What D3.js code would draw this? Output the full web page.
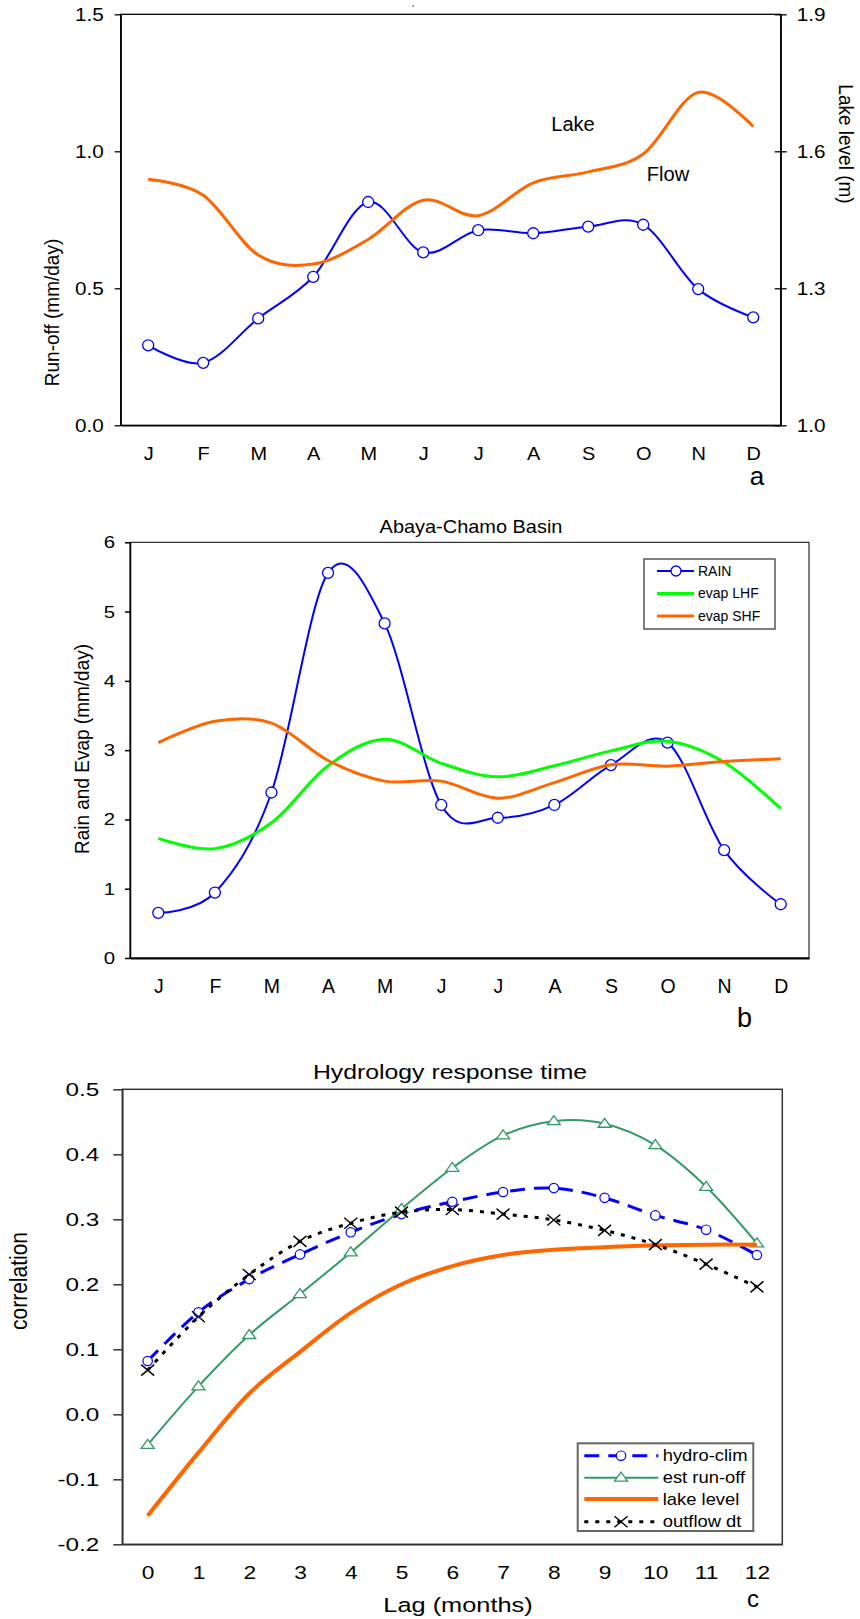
<!DOCTYPE html>
<html>
<head>
<meta charset="utf-8">
<script src="https://cdn.jsdelivr.net/npm/d3@7"></script>
<style>
  body { margin: 0; background: #fff; }
  svg { display: block; }
  text { font-family: "Liberation Sans", Arial, sans-serif; fill: #000; }
</style>
</head>
<body>
<svg id="viz" width="860" height="1619"></svg>
<script>
// ---- data ----
const months = ["J", "F", "M", "A", "M", "J", "J", "A", "S", "O", "N", "D"];

// panel a: run-off (left axis) and lake level (right axis)
const flowA = [0.292, 0.228, 0.390, 0.542, 0.815, 0.631, 0.712, 0.701, 0.725, 0.732, 0.497, 0.394];
const lakeA = [1.539, 1.504, 1.373, 1.353, 1.407, 1.493, 1.459, 1.531, 1.555, 1.594, 1.729, 1.654];
const ticksA = [0, 0.5, 1.0, 1.5];
const ticksAR = [1.0, 1.3, 1.6, 1.9];

// panel b: rain and evaporation
const rainB = [0.652, 0.945, 2.389, 5.558, 4.829, 2.209, 2.024, 2.209, 2.784, 3.108, 1.556, 0.776];
const lhfB = [1.726, 1.577, 1.952, 2.774, 3.159, 2.810, 2.615, 2.774, 2.990, 3.128, 2.825, 2.157];
const shfB = [3.108, 3.416, 3.390, 2.851, 2.553, 2.553, 2.306, 2.532, 2.789, 2.769, 2.836, 2.877];
const ticksB = [0, 1, 2, 3, 4, 5, 6];

// panel c: lag correlations
const lags = [0, 1, 2, 3, 4, 5, 6, 7, 8, 9, 10, 11, 12];
const hydroC = [0.082, 0.157, 0.208, 0.246, 0.280, 0.308, 0.327, 0.342, 0.348, 0.333, 0.306, 0.284, 0.245];
const runoffC = [-0.047, 0.043, 0.122, 0.185, 0.249, 0.316, 0.379, 0.429, 0.451, 0.447, 0.414, 0.350, 0.263];
const lakeC = [-0.156, -0.059, 0.032, 0.096, 0.156, 0.200, 0.228, 0.245, 0.253, 0.257, 0.260, 0.261, 0.261];
const outflowC = [0.068, 0.150, 0.215, 0.266, 0.294, 0.311, 0.315, 0.308, 0.299, 0.283, 0.261, 0.231, 0.196];
const ticksC = [-0.2, -0.1, 0.0, 0.1, 0.2, 0.3, 0.4, 0.5];

const BLUE = "#0000FF", ORANGE = "#FF6600", LIME = "#00FF00", SEA = "#339966";

const svg = d3.select("#viz");
const smooth = d3.curveCatmullRom.alpha(0);

// the original text is drawn a bit wide, so stretch horizontally
function stretchText(sel, k) {
    sel.each(function() {
        const t = d3.select(this);
        const x = +t.attr("x") || 0;
        t.attr("x", x / k).attr("transform", `scale(${k},1)`);
    });
}

function label(x, y, str, o) {
    o = o || {};
    const k = o.k || 1;
    let tr = `translate(${x},${y})`;
    if (o.rot) tr += ` rotate(${o.rot}) scale(1,${k})`;
    else tr += ` scale(${k},1)`;
    return svg.append("text")
        .attr("transform", tr)
        .attr("text-anchor", o.anchor || "middle")
        .attr("dy", o.dy === undefined ? "0.35em" : o.dy)
        .attr("font-size", o.size || 18)
        .text(str);
}

function styleAxis(g, size, k, width) {
    g.attr("font-size", size);
    g.select(".domain").attr("stroke-width", width || 1.3);
    g.selectAll(".tick line").attr("stroke-width", width || 1.3);
    stretchText(g.selectAll("text"), k);
}

function circles(data, x, y, color, r) {
    svg.append("g").selectAll("circle").data(data).join("circle")
        .attr("cx", (d, i) => x(i))
        .attr("cy", d => y(d))
        .attr("r", r)
        .attr("fill", "#fff")
        .attr("stroke", color)
        .attr("stroke-width", 1.3);
}

// ================= panel a =================
const xA = d3.scalePoint().domain(d3.range(12)).range([120.7, 780.7]).padding(0.5);
const yA = d3.scaleLinear().domain([0, 1.5]).range([425.3, 14.3]);
const yAR = d3.scaleLinear().domain([1.0, 1.9]).range([425.3, 14.3]);

svg.append("rect")
    .attr("x", 120.7).attr("y", 14.3).attr("width", 660).attr("height", 411)
    .attr("fill", "none").attr("stroke", "#000").attr("stroke-width", 1.3);

const gAL = svg.append("g").attr("transform", "translate(120.7,0)")
    .call(d3.axisLeft(yA).tickValues(ticksA).tickFormat(d => d.toFixed(1)).tickSize(6).tickSizeOuter(0).tickPadding(11));
styleAxis(gAL, 18, 1.15);

const gAR = svg.append("g").attr("transform", "translate(780.7,0)")
    .call(d3.axisRight(yAR).tickValues(ticksAR).tickFormat(d => d.toFixed(1)).tickSize(6).tickSizeOuter(0).tickPadding(10));
gAR.selectAll(".tick line").attr("x1", -6);
styleAxis(gAR, 18, 1.15);

const gAB = svg.append("g").attr("transform", "translate(0,425.3)")
    .call(d3.axisBottom(xA).tickFormat(i => months[i]).tickSize(0).tickSizeOuter(0).tickPadding(21));
styleAxis(gAB, 19, 1.05);

svg.append("path").datum(flowA)
    .attr("fill", "none").attr("stroke", BLUE).attr("stroke-width", 2)
    .attr("d", d3.line().x((d, i) => xA(i)).y(d => yA(d)).curve(smooth));
circles(flowA, xA, yA, BLUE, 5.5);

svg.append("path").datum(lakeA)
    .attr("fill", "none").attr("stroke", ORANGE).attr("stroke-width", 3)
    .attr("d", d3.line().x((d, i) => xA(i)).y(d => yAR(d)).curve(smooth));

label(573, 124, "Lake", { size: 19.5, k: 1.03 });
label(668, 174, "Flow", { size: 19.5, k: 1.03 });
label(413, 8, "'", { size: 9 });
label(52, 312.5, "Run-off (mm/day)", { size: 19, rot: -90, k: 1.1 });
label(846, 144, "Lake level (m)", { size: 19, rot: 90, k: 1.1 });
label(757, 485, "a", { size: 26, dy: 0 });

// ================= panel b =================
const xB = d3.scalePoint().domain(d3.range(12)).range([130, 809]).padding(0.5);
const yB = d3.scaleLinear().domain([0, 6]).range([958, 542.3]);

svg.append("rect")
    .attr("x", 130).attr("y", 542.3).attr("width", 679).attr("height", 415.7)
    .attr("fill", "none").attr("stroke", "#000").attr("stroke-width", 1);

const gBL = svg.append("g").attr("transform", "translate(130,0)")
    .call(d3.axisLeft(yB).tickValues(ticksB).tickFormat(d => d).tickSize(5).tickSizeOuter(0).tickPadding(10));
styleAxis(gBL, 17, 1.2, 1.5);

const gBB = svg.append("g").attr("transform", "translate(0,958)")
    .call(d3.axisBottom(xB).tickFormat(i => months[i]).tickSize(0).tickSizeOuter(0).tickPadding(21));
styleAxis(gBB, 19.5, 1, 2);

const lineB = d3.line().x((d, i) => xB(i)).y(d => yB(d)).curve(smooth);
svg.append("path").datum(rainB)
    .attr("fill", "none").attr("stroke", BLUE).attr("stroke-width", 2).attr("d", lineB);
circles(rainB, xB, yB, BLUE, 5.5);
svg.append("path").datum(lhfB)
    .attr("fill", "none").attr("stroke", LIME).attr("stroke-width", 3).attr("d", lineB);
svg.append("path").datum(shfB)
    .attr("fill", "none").attr("stroke", ORANGE).attr("stroke-width", 3).attr("d", lineB);

label(471, 527, "Abaya-Chamo Basin", { size: 17.5, k: 1.14 });
label(81.7, 749, "Rain and Evap (mm/day)", { size: 19, rot: -90, k: 1.1 });
label(744.5, 1027, "b", { size: 27, dy: 0 });

// legend b
svg.append("rect")
    .attr("x", 644).attr("y", 559).attr("width", 131).attr("height", 70)
    .attr("fill", "#fff").attr("stroke", "#555").attr("stroke-width", 1.5);
const legB = [
    { name: "RAIN", color: BLUE, w: 2, marker: true },
    { name: "evap LHF", color: LIME, w: 3 },
    { name: "evap SHF", color: ORANGE, w: 3 }
];
legB.forEach((s, i) => {
    const y = 571 + i * 22.5;
    svg.append("line").attr("x1", 657).attr("x2", 694).attr("y1", y).attr("y2", y)
        .attr("stroke", s.color).attr("stroke-width", s.w);
    if (s.marker) {
        svg.append("circle").attr("cx", 676).attr("cy", y).attr("r", 5)
            .attr("fill", "#fff").attr("stroke", s.color).attr("stroke-width", 1.3);
    }
    label(698, y, s.name, { size: 14, anchor: "start" });
});

// ================= panel c =================
const xC = d3.scalePoint().domain(lags).range([122.3, 782.3]).padding(0.5);
const yC = d3.scaleLinear().domain([-0.2, 0.5]).range([1544.3, 1089.3]);

svg.append("rect")
    .attr("x", 122.3).attr("y", 1089.3).attr("width", 660).attr("height", 455)
    .attr("fill", "none").attr("stroke", "#333").attr("stroke-width", 1.5);

const gCL = svg.append("g").attr("transform", "translate(122.3,0)")
    .call(d3.axisLeft(yC).tickValues(ticksC).tickFormat(d => d.toFixed(1)).tickSize(9).tickSizeOuter(0).tickPadding(14));
gCL.selectAll("line, path").attr("stroke", "#333");
styleAxis(gCL, 18, 1.35, 1.5);

const gCB = svg.append("g").attr("transform", "translate(0,1544.3)")
    .call(d3.axisBottom(xC).tickSize(0).tickSizeOuter(0).tickPadding(22.5));
gCB.select(".domain").attr("stroke", "#333");
styleAxis(gCB, 17.5, 1.3, 1.5);

const lineC = d3.line().x((d, i) => xC(lags[i])).y(d => yC(d)).curve(smooth);

// hydro-clim
svg.append("path").datum(hydroC)
    .attr("fill", "none").attr("stroke", BLUE).attr("stroke-width", 3)
    .attr("stroke-dasharray", "15,9").attr("d", lineC);
svg.append("g").selectAll("circle").data(hydroC).join("circle")
    .attr("cx", (d, i) => xC(lags[i])).attr("cy", d => yC(d)).attr("r", 4.7)
    .attr("fill", "#fff").attr("stroke", BLUE).attr("stroke-width", 1.2);

// est run-off
const tri = "M0,-5.5L6.5,3.5L-6.5,3.5Z";
svg.append("path").datum(runoffC)
    .attr("fill", "none").attr("stroke", SEA).attr("stroke-width", 2).attr("d", lineC);
svg.append("g").selectAll("path").data(runoffC).join("path")
    .attr("transform", (d, i) => `translate(${xC(lags[i])},${yC(d)})`)
    .attr("d", tri).attr("fill", "#fff").attr("stroke", SEA).attr("stroke-width", 1.3);

// lake level
svg.append("path").datum(lakeC)
    .attr("fill", "none").attr("stroke", ORANGE).attr("stroke-width", 4).attr("d", lineC);

// outflow dt
const xMark = "M-6.5,-5.5L6.5,5.5M-6.5,5.5L6.5,-5.5";
svg.append("path").datum(outflowC)
    .attr("fill", "none").attr("stroke", "#000").attr("stroke-width", 3)
    .attr("stroke-dasharray", "4,7").attr("d", lineC);
svg.append("g").selectAll("path").data(outflowC).join("path")
    .attr("transform", (d, i) => `translate(${xC(lags[i])},${yC(d)})`)
    .attr("d", xMark).attr("fill", "none").attr("stroke", "#000").attr("stroke-width", 1.4);

label(450, 1071.5, "Hydrology response time", { size: 20, k: 1.24 });
label(458, 1605, "Lag (months)", { size: 19.5, k: 1.3 });
label(19.4, 1281, "correlation", { size: 21, rot: -90, k: 1.1 });
label(753, 1607, "c", { size: 24, dy: 0 });

// legend c
svg.append("rect")
    .attr("x", 577.7).attr("y", 1443.3).attr("width", 175.6).attr("height", 87.7)
    .attr("fill", "#fff").attr("stroke", "#666").attr("stroke-width", 2);
const legC = [
    { name: "hydro-clim", color: BLUE, w: 3, dash: "15,9", marker: "circle" },
    { name: "est run-off", color: SEA, w: 2, marker: "tri" },
    { name: "lake level", color: ORANGE, w: 4 },
    { name: "outflow dt", color: "#000", w: 3, dash: "4,7", marker: "x" }
];
const legY = [1455.7, 1477.7, 1499, 1521.7];
legC.forEach((s, i) => {
    const y = legY[i];
    svg.append("line").attr("x1", 584.3).attr("x2", 658.3).attr("y1", y).attr("y2", y)
        .attr("stroke", s.color).attr("stroke-width", s.w)
        .attr("stroke-dasharray", s.dash || null);
    if (s.marker === "circle") {
        svg.append("circle").attr("cx", 621).attr("cy", y).attr("r", 4.7)
            .attr("fill", "#fff").attr("stroke", s.color).attr("stroke-width", 1.2);
    } else if (s.marker === "tri") {
        svg.append("path").attr("transform", `translate(621,${y})`).attr("d", tri)
            .attr("fill", "#fff").attr("stroke", s.color).attr("stroke-width", 1.3);
    } else if (s.marker === "x") {
        svg.append("path").attr("transform", `translate(621,${y})`).attr("d", xMark)
            .attr("fill", "none").attr("stroke", s.color).attr("stroke-width", 1.4);
    }
    label(662.7, y, s.name, { size: 16, anchor: "start", k: 1.15 });
});
</script>
</body>
</html>
